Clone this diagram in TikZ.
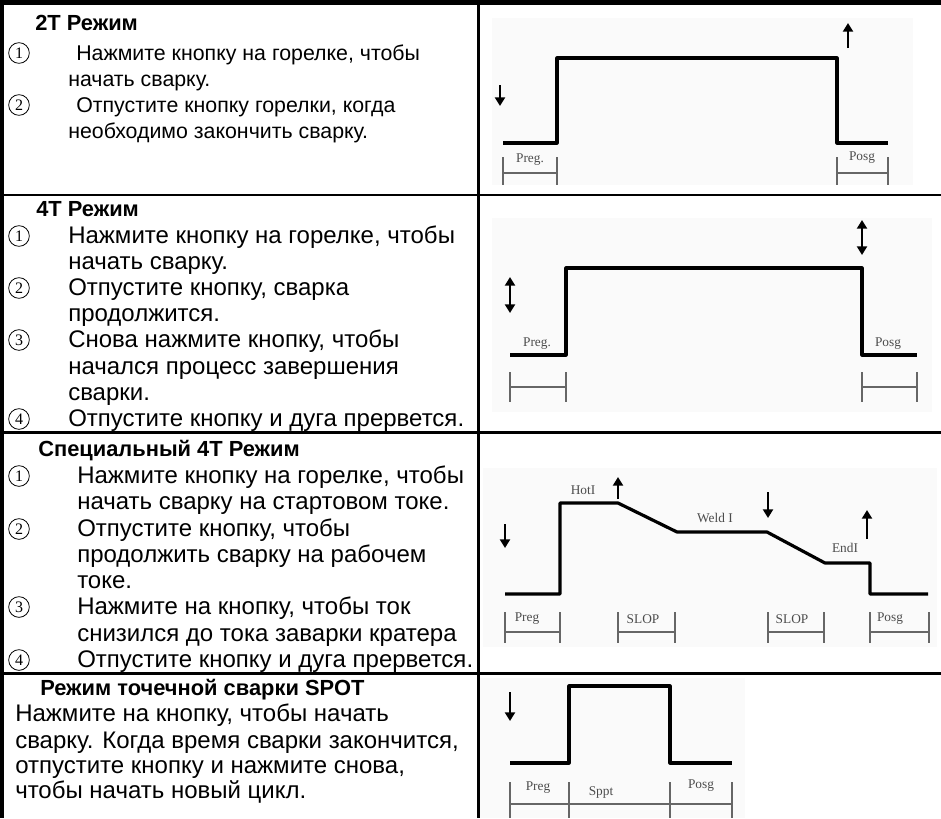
\documentclass[tikz,border=0pt]{standalone}
\usepackage{fontspec}
\setmainfont{Liberation Sans}
\newfontfamily\serifa{Liberation Serif}
\usetikzlibrary{arrows.meta}

\tikzset{
  txt/.style={anchor=base west, inner sep=0pt, font=\fontsize{18}{20}\selectfont},
  txtp/.style={anchor=base west, inner sep=0pt, font=\fontsize{16}{19}\selectfont},
  tit/.style={anchor=base west, inner sep=0pt, font=\fontsize{16.4}{19}\selectfont\bfseries},
  num/.style={circle, draw, line width=0.6pt, minimum size=15.5pt, inner sep=0pt,
    font=\serifa\fontsize{12}{13}\selectfont},
  borde/.style={line width=3.5pt},
  linea/.style={line width=2.2pt},
  fondo/.style={fill=black!2},
  onda/.style={line width=2.4pt, line join=round},
  cota/.style={line width=1pt, black!60},
  etq/.style={inner sep=0pt, text=black!70, font=\serifa\fontsize{10}{11}\selectfont},
  flecha/.style={line width=2.1pt, -{Triangle[length=6.5pt,width=7.5pt]}},
  dflecha/.style={line width=2.1pt, {Triangle[length=6.5pt,width=7.5pt]}-{Triangle[length=6.5pt,width=7.5pt]}}
}

\begin{document}
\begin{tikzpicture}[x=0.75pt,y=-0.75pt]
\useasboundingbox (0,0) rectangle (941,818);

% Fondos de las imagenes
\fill[fondo] (492,18) rectangle (913,185);
\fill[fondo] (492,218) rectangle (932,412);
\fill[fondo] (483,468) rectangle (937,647);
\fill[fondo] (478,678) rectangle (745,818);

% Lineas de la tabla
\draw[borde] (0,2.5) -- (941,2.5);
\draw[borde] (2,0) -- (2,818);
\draw[linea] (478.5,0) -- (478.5,818);
\draw[linea] (0,195) -- (941,195);
\draw[linea] (0,432.5) -- (941,432.5);
\draw[linea] (0,673.5) -- (941,673.5);

% Modo 2T
\node[tit] (a0) at (35,30) {2T Режим};
\node[num] (a1n) at (19,53) {1};
\node[txtp] (a1) at (76,60) {Нажмите кнопку на горелке, чтобы};
\node[txtp] (a2) at (68,86) {начать сварку.};
\node[num] (a3n) at (19,105) {2};
\node[txtp] (a3) at (76,112) {Отпустите кнопку горелки, когда};
\node[txtp] (a4) at (68,138) {необходимо закончить сварку.};

% Modo 4T
\node[tit] (b0) at (36,216) {4T Режим};
\node[num] (b1n) at (19,236) {1};
\node[txt] (b1) at (68,243) {Нажмите кнопку на горелке, чтобы};
\node[txt] (b2) at (68,269) {начать сварку.};
\node[num] (b3n) at (19,288) {2};
\node[txt] (b3) at (68,295) {Отпустите кнопку, сварка};
\node[txt] (b4) at (68,321) {продолжится.};
\node[num] (b5n) at (19,340) {3};
\node[txt] (b5) at (68,347) {Снова нажмите кнопку, чтобы};
\node[txt] (b6) at (68,374) {начался процесс завершения};
\node[txt] (b7) at (68,400) {сварки.};
\node[num] (b8n) at (19,419) {4};
\node[txt] (b8) at (68,426) {Отпустите кнопку и дуга прервется.};

% Modo 4T especial
\node[tit] (c0) at (38,456) {Специальный 4T Режим};
\node[num] (c1n) at (19,476) {1};
\node[txt] (c1) at (77,483) {Нажмите кнопку на горелке, чтобы};
\node[txt] (c2) at (77,509) {начать сварку на стартовом токе.};
\node[num] (c3n) at (19,529) {2};
\node[txt] (c3) at (77,536) {Отпустите кнопку, чтобы};
\node[txt] (c4) at (77,562) {продолжить сварку на рабочем};
\node[txt] (c5) at (77,588) {токе.};
\node[num] (c6n) at (19,607) {3};
\node[txt] (c6) at (77,614) {Нажмите на кнопку, чтобы ток};
\node[txt] (c7) at (77,641) {снизился до тока заварки кратера};
\node[num] (c8n) at (19,660) {4};
\node[txt] (c8) at (77,667) {Отпустите кнопку и дуга прервется.};

% Modo SPOT
\node[tit] (d0) at (40,695) {Режим точечной сварки SPOT};
\node[txt] (d1) at (15,721) {Нажмите на кнопку, чтобы начать};
\node[txt] (d2) at (15,748) {сварку. Когда время сварки закончится,};
\node[txt] (d3) at (15,773) {отпустите кнопку и нажмите снова,};
\node[txt] (d4) at (15,798) {чтобы начать новый цикл.};

% Grafico 2T
\draw[onda] (503,143) -- (557,143) -- (557,58) -- (837,58) -- (837,143) -- (888,143);
\draw[flecha] (500,85) -- (500,106);
\draw[flecha] (848,48) -- (848,23);
\draw[cota] (503,157) -- (503,185) (557,157) -- (557,185) (503,173) -- (557,173);
\draw[cota] (837,157) -- (837,185) (888,157) -- (888,185) (837,173) -- (888,173);
\node[etq] (p1) at (530,160) {Preg.};
\node[etq] (q1) at (862,158) {Posg};

% Grafico 4T
\draw[onda] (510,355) -- (566,355) -- (566,268) -- (862,268) -- (862,355) -- (917,355);
\draw[dflecha] (510,277) -- (510,313);
\draw[dflecha] (862,220) -- (862,255);
\draw[cota] (510,372) -- (510,402) (566,372) -- (566,402) (510,387) -- (566,387);
\draw[cota] (862,372) -- (862,402) (917,372) -- (917,402) (862,387) -- (917,387);
\node[etq] (p2) at (537,344) {Preg.};
\node[etq] (q2) at (888,344) {Posg};

% Grafico 4T especial
\draw[onda] (505,594) -- (560,594) -- (560,503) -- (618,503) -- (677,532) -- (767,532)
  -- (825,563) -- (870,563) -- (870,594) -- (928,594);
\draw[flecha] (505,524) -- (505,548);
\draw[flecha] (618,499) -- (618,477);
\draw[flecha] (768,492) -- (768,518);
\draw[flecha] (867,539) -- (867,510);
\node[etq] (h3) at (583,490) {HotI};
\node[etq] (w3) at (715,518) {Weld I};
\node[etq] (e3) at (845,548) {EndI};
\draw[cota] (505,612) -- (505,643) (560,612) -- (560,643) (505,632) -- (560,632);
\draw[cota] (618,612) -- (618,643) (675,612) -- (675,643) (618,632) -- (675,632);
\draw[cota] (768,612) -- (768,643) (824,612) -- (824,643) (768,632) -- (824,632);
\draw[cota] (870,612) -- (870,643) (929,612) -- (929,643) (870,632) -- (929,632);
\node[etq] (p3) at (527,619) {Preg};
\node[etq] (s3) at (643,619) {SLOP};
\node[etq] (t3) at (792,619) {SLOP};
\node[etq] (q3) at (890,619) {Posg};

% Grafico SPOT
\draw[onda] (510,763) -- (569,763) -- (569,686) -- (670,686) -- (670,763) -- (732,763);
\draw[flecha] (510,692) -- (510,721);
\draw[cota] (510,782) -- (510,818) (569,782) -- (569,818) (670,782) -- (670,818)
  (732,782) -- (732,818) (510,804) -- (732,804);
\node[etq] (p4) at (538,788) {Preg};
\node[etq] (s4) at (601,792) {Sppt};
\node[etq] (q4) at (701,786) {Posg};
\end{tikzpicture}
\end{document}
